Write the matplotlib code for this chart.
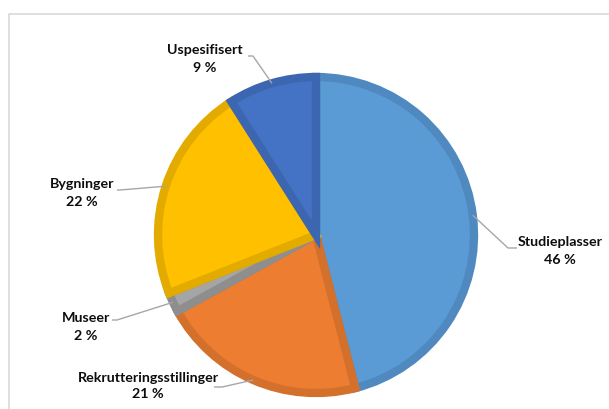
import numpy as np
import matplotlib
matplotlib.use("Agg")
import matplotlib.pyplot as plt

labels = ["Studieplasser", "Rekrutteringsstillinger", "Museer", "Bygninger", "Uspesifisert"]
values = [46, 21, 2, 22, 9]
colors = ["#5B9BD5", "#ED7D31", "#A5A5A5", "#FFC000", "#4472C4"]
edges = ["#4F89BF", "#D2702C", "#8E8E8E", "#E3AB00", "#3D66B0"]

# label text centre (px from top-left) and leader elbow point
label_pos = [(560, 251), (148, 386), (86, 327), (82, 193), (205, 59)]
elbow = [(508, 248), (222, 387), (117, 320), (120, 190), (253, 56)]
line_end = [(517, 248), (214, 387), (112, 320), (117, 190), (248, 56)]

W, H = 609, 409
fig = plt.figure(figsize=(W / 100, H / 100), dpi=100)
ax = fig.add_axes([0, 0, 1, 1])

cx, cy, R = 316, 235, 158
# y axis gets inverted below, so start at -90 (screen top) and go "counterclock" = clockwise on screen
wedges, _ = ax.pie(values, colors=colors, startangle=-90, counterclock=True,
                   center=(cx, cy), radius=R, frame=True,
                   wedgeprops=dict(linewidth=0))
ax.set_xlim(0, W)
ax.set_ylim(H, 0)
ax.set_aspect("equal")
ax.axis("off")

for w, ec in zip(wedges, edges):
    w.set_edgecolor(ec)
    w.set_linewidth(6)
    w.set_clip_path(w)

total = sum(values)
cum = 0
for i, (lab, v) in enumerate(zip(labels, values)):
    mid = (cum + v / 2) / total
    cum += v
    px = cx + R * np.sin(2 * np.pi * mid)
    py = cy - R * np.cos(2 * np.pi * mid)
    ex, ey = elbow[i]
    lx, ly = line_end[i]
    ax.plot([px, ex, lx], [py, ey, ly], color="#A6A6A6", lw=1, solid_capstyle="butt")
    tx, ty = label_pos[i]
    ax.text(tx, ty, f"{lab}\n{v} %", ha="center", va="center", fontsize=10.3,
            fontweight="bold", family="Lato", color="#0d0d0d", linespacing=1.5)

# chart border
ax.plot([9, 9, W + 5], [H + 5, 13.5, 13.5], color="#D9D9D9", lw=1.2)

fig.savefig("out.png", dpi=100)
